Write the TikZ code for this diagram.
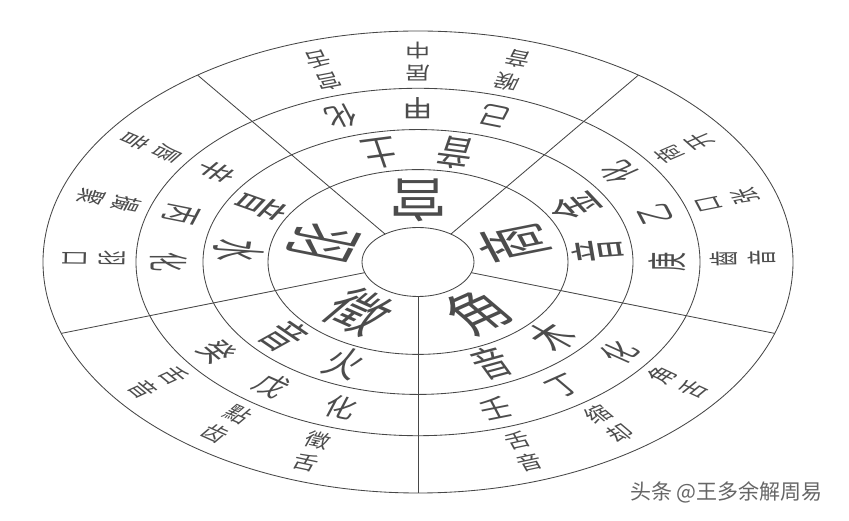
\documentclass[tikz,border=0pt]{standalone}
\usepackage{fontspec}
\newfontfamily\cjk{Noto Sans CJK SC}
\usetikzlibrary{calc}
\definecolor{lineGray}{rgb}{0.28,0.28,0.28}
\definecolor{textGray}{rgb}{0.3,0.3,0.3}
\definecolor{markGray}{rgb}{0.4,0.4,0.4}
\tikzset{
  ring/.style={draw=lineGray, line width=0.85pt},
  glyph/.style={transform shape, inner sep=0pt, text=textGray},
  toneText/.style={glyph, font=\cjk\fontsize{58}{58}\selectfont, yscale=1.3},
  elemText/.style={glyph, font=\cjk\fontsize{36}{36}\selectfont, yscale=1.55},
  stemText/.style={glyph, font=\cjk\fontsize{31}{31}\selectfont, yscale=1.3},
  noteText/.style={glyph, font=\cjk\fontsize{25}{25}\selectfont, yscale=1.2}
}
\begin{document}
\begin{tikzpicture}[x=1pt, y=1pt]
  \useasboundingbox (-418,262) rectangle (431,-259);

  \begin{scope}[yscale=0.616]
    \foreach \r in {56,150,215,282,375}{
      \draw[ring] (0,0) circle (\r pt);
    }
    \foreach \a in {54,126,198,270,342}{
      \draw[ring] (\a:56) -- (\a:375);
    }

    % five tones
    \foreach \c/\tone/\nm in {90/宫/gong, 18/商/shang, 306/角/jue, 234/徵/zhi, 162/羽/yu}{
      \node[rotate=\c+90, toneText] (\nm) at (\c:100) {\tone};
    }

    \foreach \c/\el/\nm in {90/土/gong, 18/金/shang, 306/木/jue, 234/火/zhi, 162/水/yu}{
      \node[rotate=\c+102, elemText] (\nm-el) at ({\c+12}:180) {\el};
      \node[rotate=\c+78, elemText] (\nm-yin) at ({\c-12}:180) {音};
    }

    \foreach \c/\sa/\sb/\nm in {90/己/甲/gong, 18/庚/乙/shang, 306/壬/丁/jue, 234/癸/戊/zhi, 162/辛/丙/yu}{
      \node[rotate=\c+72, stemText] (\nm-s1) at ({\c-18}:249) {\sa};
      \node[rotate=\c+90, stemText] (\nm-s2) at (\c:249) {\sb};
      \node[rotate=\c+108, stemText] (\nm-hua) at ({\c+18}:249) {化};
    }

    % outer ring, two characters per column
    \foreach \c/\la/\lb/\ma/\mb/\fa/\fb/\nm in {
        90/喉/音/居/中/宫/舌/gong,
        18/齒/音/口/张/商/开/shang,
        306/舌/音/缩/却/角/舌/jue,
        234/舌/音/點/齿/徵/舌/zhi,
        162/唇/音/撮/聚/羽/口/yu}{
      \node[rotate=\c+73, noteText] (\nm-l1) at ({\c-17}:306) {\la};
      \node[rotate=\c+73, noteText] (\nm-l2) at ({\c-17}:344) {\lb};
      \node[rotate=\c+90, noteText] (\nm-m1) at (\c:306) {\ma};
      \node[rotate=\c+90, noteText] (\nm-m2) at (\c:344) {\mb};
      \node[rotate=\c+107, noteText] (\nm-f1) at ({\c+17}:306) {\fa};
      \node[rotate=\c+107, noteText] (\nm-f2) at ({\c+17}:344) {\fb};
    }
  \end{scope}

  \node[anchor=west, inner sep=0pt, text=markGray, font=\cjk\fontsize{21}{21}\selectfont] (mark) at (212,-230) {头条 @王多余解周易};
\end{tikzpicture}
\end{document}
